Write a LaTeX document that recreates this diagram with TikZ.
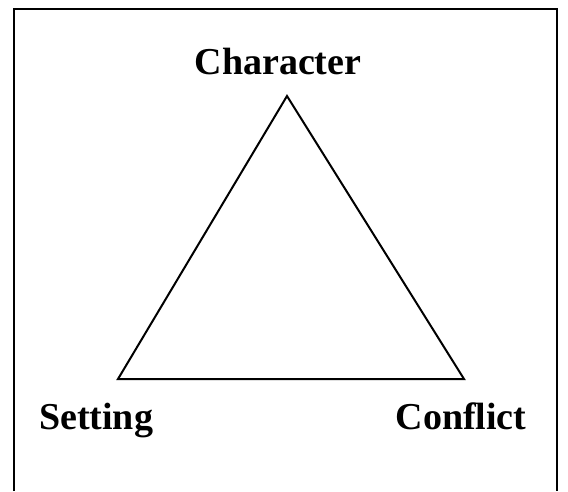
\documentclass[tikz,border=0pt]{standalone}
\usepackage{fontspec}
\setmainfont{Liberation Serif}
\tikzset{
  corner/.style = {font=\bfseries\fontsize{38}{44}\selectfont, inner sep=0pt},
  side/.style   = {line width=2pt, line join=miter},
  frame/.style  = {line width=2pt},
}
\begin{document}
\begin{tikzpicture}[x=1pt,y=-1pt]
  \useasboundingbox (0,0) rectangle (568,491);
  \draw[frame] (14,491) -- (14,9) -- (557,9) -- (557,491);

  \coordinate (top)   at (287,96);
  \coordinate (left)  at (118,379);
  \coordinate (right) at (464,379);
  \draw[side] (top) -- (right) -- (left) -- cycle;

  \node[corner, anchor=base] (character) at (278,74)  {Character};
  \node[corner, anchor=base] (setting)   at (96,429)  {Setting};
  \node[corner, anchor=base] (conflict)  at (461,429) {Conflict};
\end{tikzpicture}
\end{document}
